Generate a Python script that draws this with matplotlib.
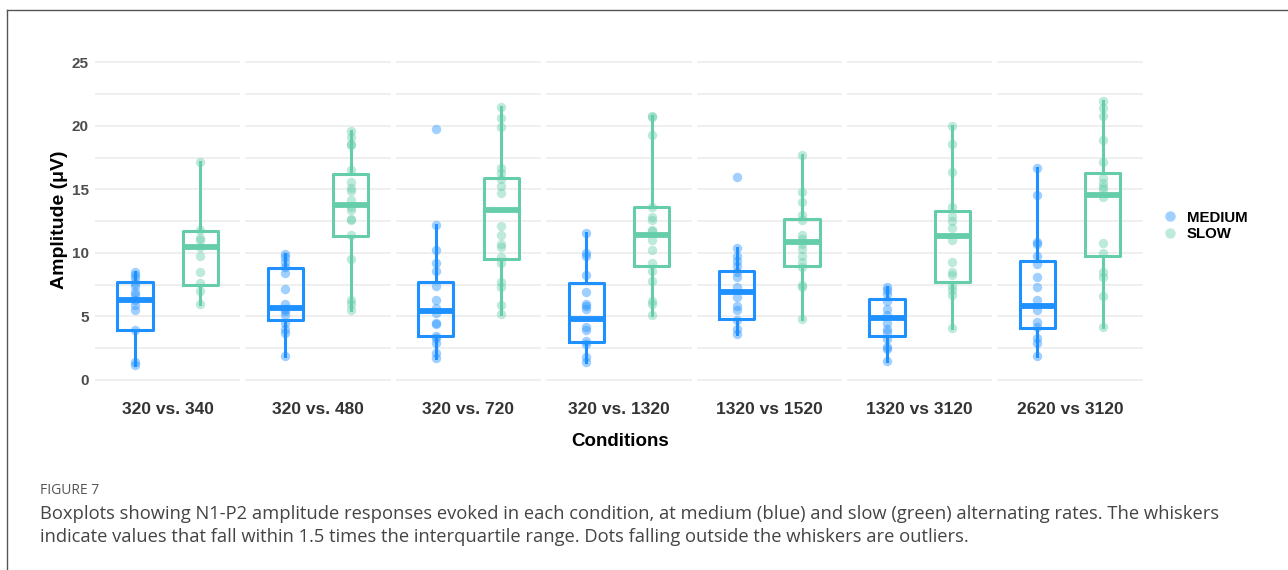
import matplotlib
matplotlib.use("Agg")
import matplotlib.pyplot as plt
from matplotlib.lines import Line2D
import numpy as np

plt.rcParams['font.family'] = ['Liberation Sans', 'DejaVu Sans']

conditions = ["320 vs. 340", "320 vs. 480", "320 vs. 720", "320 vs. 1320",
              "1320 vs 1520", "1320 vs 3120", "2620 vs 3120"]

# individual amplitudes, medium rate
medium_points = [
    [8.5, 8.3, 8.0, 7.6, 7.4, 6.9, 6.7, 6.3, 5.9, 5.5, 3.9, 1.4, 1.2],
    [9.9, 9.7, 9.3, 8.9, 8.4, 7.2, 6.0, 5.6, 5.4, 5.1, 4.5, 4.0, 3.7, 1.9],
    [19.8, 12.2, 10.2, 9.2, 8.6, 7.4, 6.3, 5.7, 5.3, 4.5, 4.4, 3.5, 3.3, 2.9, 2.1, 1.7],
    [11.6, 10.0, 9.8, 8.3, 6.9, 6.0, 5.8, 5.6, 4.2, 3.9, 3.1, 2.8, 1.8, 1.4],
    [16.0, 10.4, 9.8, 9.4, 9.0, 8.5, 8.1, 7.3, 6.5, 5.8, 5.5, 4.7, 4.0, 3.6],
    [7.3, 7.1, 6.8, 6.2, 5.6, 5.1, 4.5, 4.0, 3.8, 3.2, 2.6, 2.4, 1.5],
    [16.7, 14.6, 10.9, 10.7, 9.8, 9.1, 8.1, 7.3, 6.3, 5.5, 4.6, 4.2, 3.3, 2.9, 1.9],
]
# individual amplitudes, slow rate
slow_points = [
    [17.2, 11.8, 11.2, 11.0, 10.5, 9.8, 8.5, 7.6, 7.0, 6.0],
    [19.6, 19.1, 18.6, 18.5, 16.5, 15.6, 15.1, 14.9, 14.2, 13.6, 13.4, 12.7, 12.6,
     11.4, 9.5, 6.3, 6.0, 5.5],
    [21.5, 20.6, 19.9, 16.7, 16.3, 15.8, 15.3, 14.7, 12.1, 11.4, 10.7, 10.5, 9.7,
     9.2, 7.7, 7.3, 5.9, 5.2],
    [20.8, 20.7, 19.3, 13.6, 12.8, 12.6, 11.8, 11.7, 11.0, 10.2, 9.2, 8.6, 7.8,
     6.2, 6.0, 5.1],
    [17.7, 14.8, 14.0, 13.0, 12.6, 11.4, 11.1, 10.7, 10.3, 9.8, 9.3, 8.9, 7.5, 7.3, 4.8],
    [20.0, 18.6, 16.4, 13.6, 12.9, 12.5, 12.0, 11.0, 9.3, 8.5, 8.3, 7.4, 7.1, 6.7, 4.1],
    [22.0, 21.4, 20.8, 18.9, 17.2, 15.9, 15.5, 15.2, 15.0, 14.4, 10.8, 10.0, 8.5,
     8.1, 6.6, 4.2],
]

# box summaries (lower whisker, Q1, median, Q3, upper whisker)
medium_lo = [1.2, 1.9, 1.7, 1.4, 3.6, 1.5, 1.9]
medium_q1 = [3.9, 4.7, 3.5, 3.0, 4.8, 3.5, 4.1]
medium_med = [6.3, 5.7, 5.4, 4.8, 6.9, 4.9, 5.8]
medium_q3 = [7.7, 8.8, 7.7, 7.6, 8.6, 6.4, 9.4]
medium_hi = [8.5, 9.9, 12.2, 11.6, 10.4, 7.3, 16.7]

slow_lo = [6.0, 5.5, 5.2, 5.1, 4.8, 4.1, 4.2]
slow_q1 = [7.5, 11.3, 9.5, 9.0, 9.0, 7.7, 9.8]
slow_med = [10.5, 13.8, 13.4, 11.4, 10.9, 11.3, 14.6]
slow_q3 = [11.7, 16.2, 15.9, 13.6, 12.7, 13.3, 16.3]
slow_hi = [17.2, 19.6, 21.5, 20.8, 17.7, 20.0, 22.0]

rates = ["MEDIUM", "SLOW"]
colors = {"MEDIUM": "#1E90FF", "SLOW": "#66CDAA"}
offsets = {"MEDIUM": -0.27, "SLOW": 0.27}

W, H = 1288, 570
fig = plt.figure(figsize=(W / 100, H / 100), dpi=100)

left_px, panel_px, gap_px = 95, 145.4, 5
bottom = (H - 386.3) / H
height = 336.5 / H

axes = []
for i, cond in enumerate(conditions):
    x0 = (left_px + i * (panel_px + gap_px)) / W
    ax = fig.add_axes([x0, bottom, panel_px / W, height])
    axes.append(ax)

    series = {
        "MEDIUM": (medium_points[i], medium_lo[i], medium_q1[i], medium_med[i],
                   medium_q3[i], medium_hi[i]),
        "SLOW": (slow_points[i], slow_lo[i], slow_q1[i], slow_med[i],
                 slow_q3[i], slow_hi[i]),
    }
    for rate in rates:
        pts, lo, q1, med, q3, hi = series[rate]
        c = colors[rate]
        pos = offsets[rate]
        stats = [dict(med=med, q1=q1, q3=q3, whislo=lo, whishi=hi, fliers=[])]
        ax.bxp(stats, positions=[pos], widths=0.29, showcaps=False,
               showfliers=False, manage_ticks=False,
               boxprops=dict(color=c, linewidth=2.2),
               whiskerprops=dict(color=c, linewidth=2.2),
               medianprops=dict(color=c, linewidth=4.2))
        ax.scatter(np.full(len(pts), pos), pts, s=46, color=c, alpha=0.42,
                   linewidths=0, zorder=3)

    ax.set_xlim(-0.6, 0.6)
    ax.set_ylim(-0.5, 26)
    ax.set_yticks(np.arange(0, 26, 5))
    ax.set_yticks(np.arange(2.5, 26, 5), minor=True)
    ax.set_xticks([])
    ax.grid(True, which="both", axis="y", color="#EBEBEB", linewidth=1.1)
    ax.set_axisbelow(True)
    for sp in ax.spines.values():
        sp.set_visible(False)
    ax.tick_params(axis="y", which="both", length=0, pad=4.5,
                   labelsize=11, labelcolor="#4D4D4D")
    for lab in ax.get_yticklabels():
        lab.set_fontweight("bold")
    if i > 0:
        ax.tick_params(axis="y", labelleft=False)

    fig.text((x0 * W + panel_px / 2) / W, 1 - 410 / H, cond, ha="center",
             va="center", fontsize=12.5, fontweight="bold", color="#333333")

fig.text(60 / W, 1 - 220 / H, "Amplitude (μV)", rotation=90, ha="center",
         va="center", fontsize=14, fontweight="bold", color="black")
fig.text(620 / W, 1 - 442 / H, "Conditions", ha="center", va="center",
         fontsize=13.5, fontweight="bold", color="black")

handles = [Line2D([], [], marker="o", linestyle="none", markersize=7.5,
                  markerfacecolor=colors[r], markeredgewidth=0, alpha=0.42)
           for r in rates]
leg = fig.legend(handles, rates, loc="center left",
                 bbox_to_anchor=(1149 / W, 1 - 226 / H), frameon=False,
                 handlelength=1.0, handletextpad=0.6, labelspacing=0.2,
                 prop=dict(size=10.8, weight="bold"))

# outer frame of the figure panel
fig.add_artist(Line2D([7 / W, 1], [1 - 10 / H, 1 - 10 / H], color="#555555",
                      linewidth=1.0, transform=fig.transFigure))
fig.add_artist(Line2D([7 / W, 7 / W], [0, 1 - 10 / H], color="#555555",
                      linewidth=1.0, transform=fig.transFigure))

cap_font = ['Open Sans', 'DejaVu Sans']
fig.text(40 / W, 1 - 491 / H, "FIGURE 7", ha="left", va="center",
         fontsize=10, color="#555555", family=cap_font)
fig.text(40 / W, 1 - 514 / H,
         "Boxplots showing N1-P2 amplitude responses evoked in each condition, "
         "at medium (blue) and slow (green) alternating rates. The whiskers",
         ha="left", va="center", fontsize=13.2, color="#444444", family=cap_font)
fig.text(40 / W, 1 - 537 / H,
         "indicate values that fall within 1.5 times the interquartile range. "
         "Dots falling outside the whiskers are outliers.",
         ha="left", va="center", fontsize=13.2, color="#444444", family=cap_font)

fig.savefig("out.png", dpi=100)
